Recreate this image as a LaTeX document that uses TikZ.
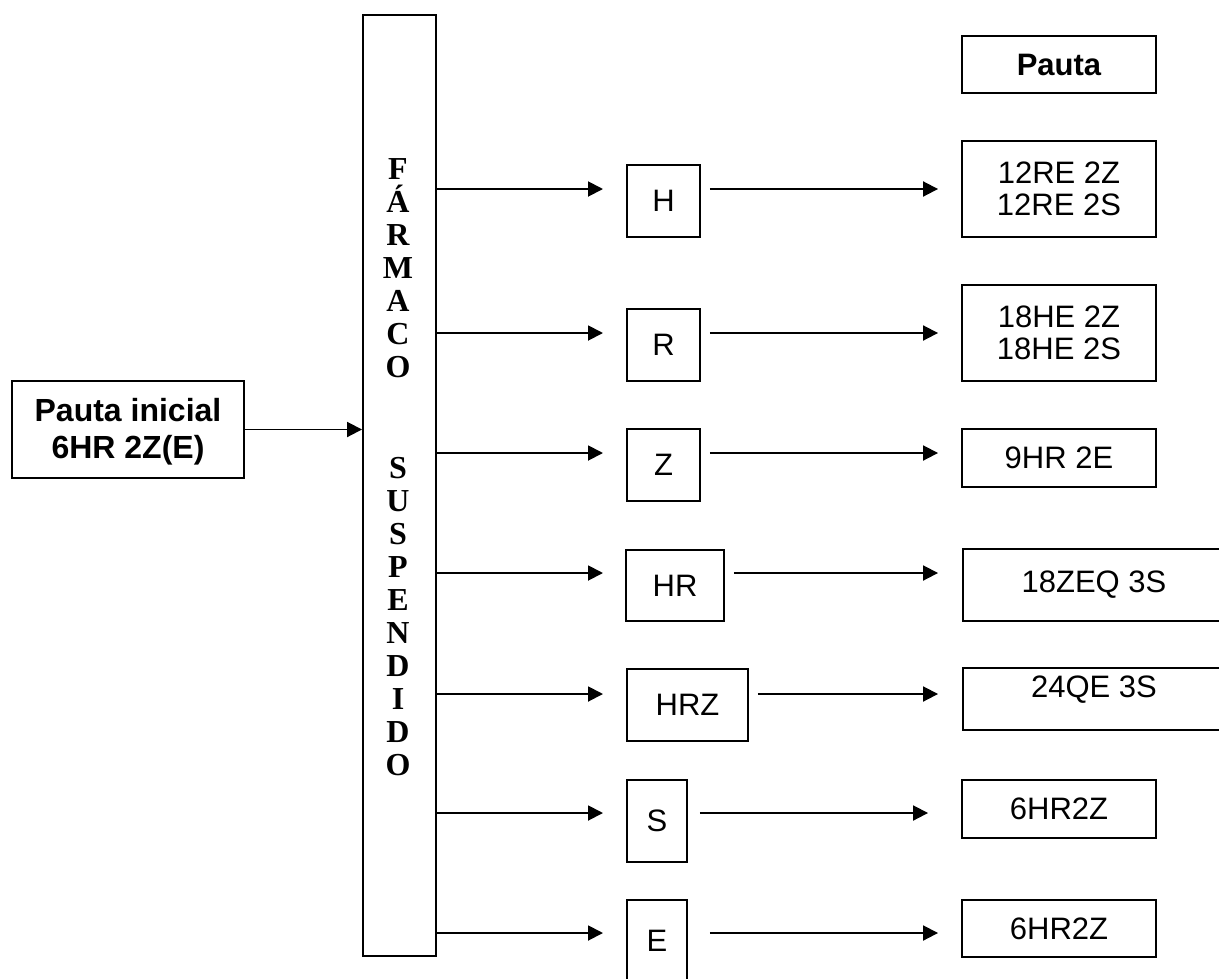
\documentclass[tikz,border=0pt]{standalone}
\usepackage{fontspec}
\setmainfont{Liberation Serif}
\newfontfamily\arial{Liberation Sans}
\usetikzlibrary{arrows.meta}
\begin{document}
\begin{tikzpicture}[x=1pt,y=-1pt,
  box/.style={draw, line width=1.9pt, inner sep=0pt, align=center,
    font=\arial\fontsize{31}{32}\selectfont},
  arr/.style={line width=1.9pt, -{Triangle[length=15pt,width=15pt]}},
  letter/.style={font=\fontsize{32}{36}\selectfont\bfseries, anchor=base, inner sep=0pt}]
\useasboundingbox (0,0) rectangle (1219,978);

% left box
\node[box, minimum width=232pt, minimum height=97pt] (init) at (128,429.5) {};
\node[align=center, inner sep=0pt, font=\arial\bfseries\fontsize{32}{37}\selectfont]
  (inittext) at (128,432) {Pauta inicial\\6HR 2Z(E)};

% tall box
\node[box, minimum width=73pt, minimum height=941pt] (tall) at (399.5,485.5) {};
\foreach \l/\y [count=\i] in {F/168, Á/201, R/234, M/267, A/300, C/333, O/366,
  S/467, U/500, S/533, P/566, E/599, N/632, D/665, I/698, D/731, O/764}
  \node[letter] (l\i) at (398,{\y+11}) {\l};

% middle boxes
\node[box, minimum width=73pt, minimum height=72pt] (H) at (663.5,201) {H};
\node[box, minimum width=73pt, minimum height=72pt] (R) at (663.5,345) {R};
\node[box, minimum width=73pt, minimum height=72pt] (Z) at (663.5,465) {Z};
\node[box, minimum width=98pt, minimum height=71pt] (HR) at (675,585.5) {HR};
\node[box, minimum width=121pt, minimum height=72pt] (HRZ) at (687.5,705) {HRZ};
\node[box, minimum width=60pt, minimum height=82pt] (S) at (657,821) {S};
\node[box, minimum width=60pt, minimum height=82pt] (E) at (657,941) {E};

% right boxes
\node[box, minimum width=194pt, minimum height=57pt,
  font=\arial\bfseries\fontsize{31}{32}\selectfont] (pauta) at (1059,64.5) {Pauta};
\node[box, minimum width=194pt, minimum height=96pt] (pH) at (1059,189) {12RE 2Z\\12RE 2S};
\node[box, minimum width=194pt, minimum height=96pt] (pR) at (1059,333) {18HE 2Z\\18HE 2S};
\node[box, minimum width=194pt, minimum height=58pt] (pZ) at (1059,458) {9HR 2E};
\node[box, minimum width=262pt, minimum height=72pt] (pHR) at (1094,585) {18ZEQ 3S};
\node[box, minimum width=262pt, minimum height=62pt] (pHRZ) at (1094,699) {\raisebox{24pt}{24QE 3S}};
\node[box, minimum width=194pt, minimum height=58pt] (pS) at (1059,809) {6HR2Z};
\node[box, minimum width=194pt, minimum height=57pt] (pE) at (1059,928.5) {6HR2Z};

% arrow tips of the first column of arrows
\coordinate (tH) at (603,189);
\coordinate (tR) at (603,333);
\coordinate (tZ) at (603,453);
\coordinate (tHR) at (603,573);
\coordinate (tHRZ) at (603,694);
\coordinate (tS) at (603,813);
\coordinate (tE) at (603,933);

% connectors
\draw[arr] (init.east) -- (init.east -| tall.west);
\foreach \n in {H,R,Z,HR,HRZ,S,E}
  \draw[arr] (tall.east |- t\n) -- (t\n);

\draw[arr, shorten <=9pt, shorten >=23pt] (H.east |- tH) -- (pH.west |- tH);
\draw[arr, shorten <=9pt, shorten >=23pt] (R.east |- tR) -- (pR.west |- tR);
\draw[arr, shorten <=9pt, shorten >=23pt] (Z.east |- tZ) -- (pZ.west |- tZ);
\draw[arr, shorten <=9pt, shorten >=24pt] (HR.east |- tHR) -- (pHR.west |- tHR);
\draw[arr, shorten <=9pt, shorten >=24pt] (HRZ.east |- tHRZ) -- (pHRZ.west |- tHRZ);
\draw[arr, shorten <=12pt, shorten >=33pt] (S.east |- tS) -- (pS.west |- tS);
\draw[arr, shorten <=22pt, shorten >=23pt] (E.east |- tE) -- (pE.west |- tE);
\end{tikzpicture}
\end{document}
